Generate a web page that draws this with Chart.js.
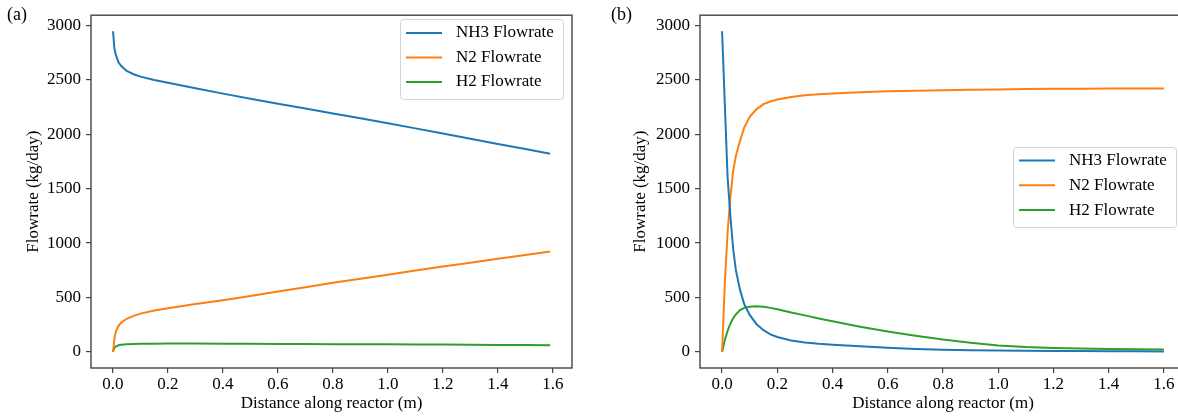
<!DOCTYPE html>
<html>
<head>
<meta charset="utf-8">
<script src="https://cdn.jsdelivr.net/npm/chart.js@4.4.1/dist/chart.umd.min.js"></script>
<style>
  html, body { margin: 0; padding: 0; background: #fff; overflow: hidden; width: 1178px; height: 417px; }
  canvas { position: absolute; top: 0; }
  #chartA { left: 0; }
  #chartB { left: 600px; }
</style>
</head>
<body>
<canvas id="chartA" width="590" height="417"></canvas>
<canvas id="chartB" width="600" height="417"></canvas>
<script>
// (a) distance along reactor (m) and flowrates (kg/day)
const distA = [0, 0.005, 0.01, 0.02, 0.03, 0.05, 0.075, 0.1, 0.15, 0.2, 0.3, 0.4, 0.5,
               0.6, 0.7, 0.8, 0.9, 1.0, 1.1, 1.2, 1.3, 1.4, 1.5, 1.59];
const nh3A = [2945, 2792, 2730, 2660, 2625, 2580, 2550, 2528, 2498, 2472, 2422, 2372, 2325,
              2280, 2235, 2190, 2145, 2100, 2053, 2005, 1958, 1910, 1863, 1820];
const n2A  = [0, 120, 185, 240, 270, 305, 332, 352, 380, 402, 440, 475, 515,
              555, 595, 635, 672, 710, 748, 785, 820, 855, 890, 923];
const h2A  = [0, 38, 50, 62, 67, 71, 73, 75, 76, 77, 77, 76, 75,
              74, 73, 72, 71, 70, 69, 68, 66, 65, 64, 63];

// (b)
const distB = [0, 0.01, 0.02, 0.03, 0.04, 0.05, 0.065, 0.08, 0.1, 0.125, 0.15, 0.175, 0.2,
               0.25, 0.3, 0.35, 0.4, 0.5, 0.6, 0.7, 0.8, 0.9, 1.0, 1.1, 1.2, 1.3, 1.4, 1.5, 1.6];
const nh3B = [2945, 2270, 1600, 1250, 950, 750, 570, 440, 340, 255, 200, 162, 138,
              106, 88, 76, 67, 52, 38, 28, 21, 17, 14, 12, 10, 8, 7, 6, 5];
const n2B  = [0, 640, 1100, 1420, 1660, 1800, 1940, 2060, 2160, 2230, 2275, 2300, 2318,
              2340, 2356, 2366, 2374, 2385, 2393, 2399, 2404, 2408, 2411, 2414, 2416, 2417, 2418, 2419, 2420];
const h2B  = [0, 110, 195, 260, 310, 345, 385, 405, 416, 420, 415, 405, 393,
              362, 336, 308, 283, 232, 188, 150, 114, 84, 60, 45, 36, 31, 27, 24, 22];

const seriesLabels = ['NH3 Flowrate', 'N2 Flowrate', 'H2 Flowrate'];
const seriesColors = ['#1f77b4', '#ff7f0e', '#2ca02c'];
const xTicks = [0, 0.2, 0.4, 0.6, 0.8, 1.0, 1.2, 1.4, 1.6];
const yTicks = [0, 500, 1000, 1500, 2000, 2500, 3000];

const FONT = '"Liberation Serif", "Times New Roman", serif';
Chart.defaults.font.family = FONT;
Chart.defaults.font.size = 17;
Chart.defaults.color = '#000';

// frame around the plot area, legend box and panel tag
const framePlugin = {
  id: 'frame',
  afterDraw(chart, args, opts) {
    const ctx = chart.ctx;
    const a = chart.chartArea;
    ctx.save();
    ctx.strokeStyle = '#444';
    ctx.lineWidth = 1.4;
    ctx.strokeRect(a.left, a.top, a.right - a.left, a.bottom - a.top);

    const L = opts.legend;
    ctx.fillStyle = 'rgba(255,255,255,0.8)';
    ctx.strokeStyle = '#d4d4d4';
    ctx.lineWidth = 1;
    ctx.beginPath();
    ctx.roundRect(L.x + 0.5, L.y + 0.5, L.w, L.h, 3);
    ctx.fill();
    ctx.stroke();
    ctx.font = '17px ' + FONT;
    ctx.textBaseline = 'middle';
    ctx.textAlign = 'left';
    chart.data.datasets.forEach((ds, i) => {
      const y = L.y + L.first + i * L.gap;
      ctx.strokeStyle = ds.borderColor;
      ctx.lineWidth = 2;
      ctx.beginPath();
      ctx.moveTo(L.x + 6, y);
      ctx.lineTo(L.x + 42, y);
      ctx.stroke();
      ctx.fillStyle = '#000';
      ctx.fillText(ds.label, L.x + 56, y);
    });

    ctx.font = '18px ' + FONT;
    ctx.fillStyle = '#000';
    ctx.fillText(opts.tag, opts.tagX, 15);
    ctx.restore();
  }
};

function makeChart(id, dist, series, xMax, yAxisWidth, yTitlePad, rightPad, legend, tag, tagX) {
  const datasets = series.map((vals, i) => ({
    label: seriesLabels[i],
    data: dist.map((d, j) => ({ x: d, y: vals[j] })),
    borderColor: seriesColors[i],
    borderWidth: 2,
    pointRadius: 0,
    tension: 0,
    fill: false
  }));
  return new Chart(document.getElementById(id), {
    type: 'line',
    data: { datasets },
    options: {
      responsive: false,
      animation: false,
      layout: { padding: { top: 9, right: rightPad, left: 0, bottom: 0 } },
      scales: {
        x: {
          type: 'linear',
          min: -0.08,
          max: xMax,
          afterBuildTicks: s => { s.ticks = xTicks.map(v => ({ value: v })); },
          afterFit: s => { s.height = 49; },
          ticks: { padding: 1, callback: v => v.toFixed(1) },
          grid: { drawOnChartArea: false, drawTicks: true, tickLength: 5, color: '#444', lineWidth: 1.2 },
          border: { display: false },
          title: { display: true, text: 'Distance along reactor (m)', padding: { top: 0, bottom: 3 } }
        },
        y: {
          min: -147,
          max: 3092,
          afterBuildTicks: s => { s.ticks = yTicks.map(v => ({ value: v })); },
          afterFit: s => { s.width = yAxisWidth; },
          ticks: { padding: 5, callback: v => String(v) },
          grid: { drawOnChartArea: false, drawTicks: true, tickLength: 5, color: '#444', lineWidth: 1.2 },
          border: { display: false },
          title: { display: true, text: 'Flowrate (kg/day)', padding: { top: yTitlePad, bottom: 0 } }
        }
      },
      plugins: {
        legend: { display: false },
        tooltip: { enabled: false },
        frame: { legend, tag, tagX }
      }
    },
    plugins: [framePlugin]
  });
}

makeChart('chartA', distA, [nh3A, n2A, h2A], 1.6695, 91, 23, 18,
  { x: 400, y: 19, w: 163, h: 80, first: 14, gap: 24.5 }, '(a)', 7);
makeChart('chartB', distB, [nh3B, n2B, h2B], 1.68, 100, 30, 14,
  { x: 413, y: 147, w: 163, h: 80, first: 13.5, gap: 24.8 }, '(b)', 11);
</script>
</body>
</html>
